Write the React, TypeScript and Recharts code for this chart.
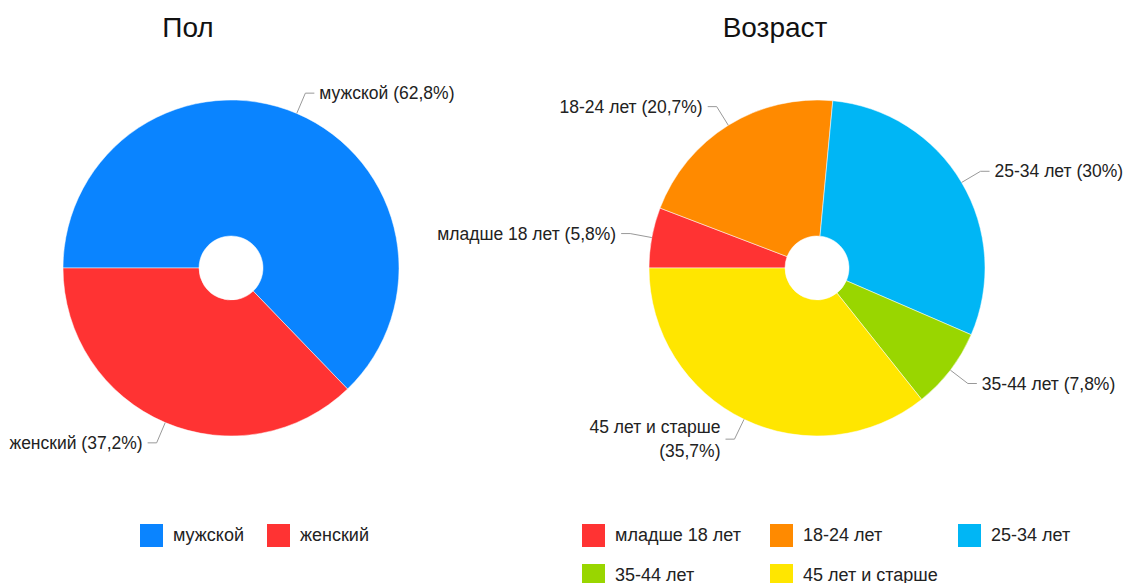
import { PieChart, Pie, Cell, Legend } from "recharts";

const GENDER_NAMES = ["мужской", "женский"];
const GENDER_VALUES = [62.8, 37.2];
const GENDER_COLORS = ["#0a84ff", "#ff3333"];

const AGE_NAMES = ["младше 18 лет", "18-24 лет", "25-34 лет", "35-44 лет", "45 лет и старше"];
const AGE_VALUES = [5.8, 20.7, 30, 7.8, 35.7];
const AGE_COLORS = ["#ff3333", "#ff8a00", "#00b6f5", "#99d600", "#ffe600"];

const FONT = '"Liberation Sans", Arial, sans-serif';
const TEXT = "#222";
const RADIAN = Math.PI / 180;

const fmt = (v: number) => String(v).replace(".", ",") + "%";

const genderData = GENDER_NAMES.map((name, i) => ({ name, value: GENDER_VALUES[i], fill: GENDER_COLORS[i] }));
const ageData = AGE_NAMES.map((name, i) => ({ name, value: AGE_VALUES[i], fill: AGE_COLORS[i] }));

function SliceLabel(props: any) {
  const { cx, cy, midAngle, outerRadius, name, value } = props;
  const cos = Math.cos(-midAngle * RADIAN);
  const sin = Math.sin(-midAngle * RADIAN);
  const sx = cx + outerRadius * cos;
  const sy = cy + outerRadius * sin;
  const mx = cx + (outerRadius + 22) * cos;
  const my = cy + (outerRadius + 22) * sin;
  const right = cos >= 0;
  const ex = mx + (right ? 9 : -9);
  const tx = ex + (right ? 5 : -5);
  const wrap = String(name).length > 13;
  return (
    <g>
      <polyline
        points={`${sx},${sy} ${mx},${my} ${ex},${my}`}
        fill="none"
        stroke="#999"
        strokeWidth={1}
      />
      <text
        x={tx}
        y={my}
        textAnchor={right ? "start" : "end"}
        dominantBaseline="central"
        fontSize={17.5}
        fill={TEXT}
        fontFamily={FONT}
      >
        {wrap ? (
          <>
            <tspan x={tx} dy={-12}>{name}</tspan>
            <tspan x={tx} dy={24}>({fmt(value)})</tspan>
          </>
        ) : (
          `${name} (${fmt(value)})`
        )}
      </text>
    </g>
  );
}

function LegendGroup({ names, colors, left, colWidth, cols }: any) {
  return (
    <>
      {names.map((name: string, i: number) => (
        <div
          key={name}
          style={{
            position: "absolute",
            left: left + (i % cols) * colWidth,
            top: Math.floor(i / cols) * 40,
            display: "flex",
            alignItems: "center",
            whiteSpace: "nowrap",
          }}
        >
          <span style={{ width: 23, height: 23, background: colors[i], display: "inline-block" }} />
          <span style={{ marginLeft: 10, fontSize: 18, color: TEXT, fontFamily: FONT, lineHeight: "23px" }}>
            {name}
          </span>
        </div>
      ))}
    </>
  );
}

function ChartLegend() {
  return (
    <div style={{ position: "relative", width: 1128, height: 70 }}>
      <LegendGroup names={GENDER_NAMES} colors={GENDER_COLORS} left={140} colWidth={127} cols={2} />
      <LegendGroup names={AGE_NAMES} colors={AGE_COLORS} left={582} colWidth={188} cols={3} />
    </div>
  );
}

const titleStyle: any = {
  position: "absolute",
  top: 12,
  fontSize: 28,
  fontFamily: FONT,
  color: "#111",
  transform: "translateX(-50%)",
  whiteSpace: "nowrap",
};

export default function App() {
  return (
    <div
      style={{
        position: "absolute",
        left: 0,
        top: 0,
        width: 1128,
        height: 583,
        background: "#fff",
        overflow: "hidden",
      }}
    >
      <div style={{ ...titleStyle, left: 188 }}>Пол</div>
      <div style={{ ...titleStyle, left: 775 }}>Возраст</div>
      <PieChart width={1128} height={583} margin={{ top: 0, right: 0, bottom: 0, left: 0 }}>
        <Pie
          data={genderData}
          dataKey="value"
          nameKey="name"
          cx={231}
          cy={268}
          innerRadius={32}
          outerRadius={168}
          startAngle={180}
          endAngle={-180}
          stroke="#fff"
          strokeWidth={0.5}
          label={SliceLabel}
          labelLine={false}
          isAnimationActive={false}
        >
          {genderData.map((d) => (
            <Cell key={d.name} fill={d.fill} />
          ))}
        </Pie>
        <Pie
          data={ageData}
          dataKey="value"
          nameKey="name"
          cx={817}
          cy={268}
          innerRadius={32}
          outerRadius={168}
          startAngle={180}
          endAngle={-180}
          stroke="#fff"
          strokeWidth={0.5}
          label={SliceLabel}
          labelLine={false}
          isAnimationActive={false}
        >
          {ageData.map((d) => (
            <Cell key={d.name} fill={d.fill} />
          ))}
        </Pie>
        <Legend content={<ChartLegend />} wrapperStyle={{ left: 0, top: 524, width: 1128 }} />
      </PieChart>
    </div>
  );
}
